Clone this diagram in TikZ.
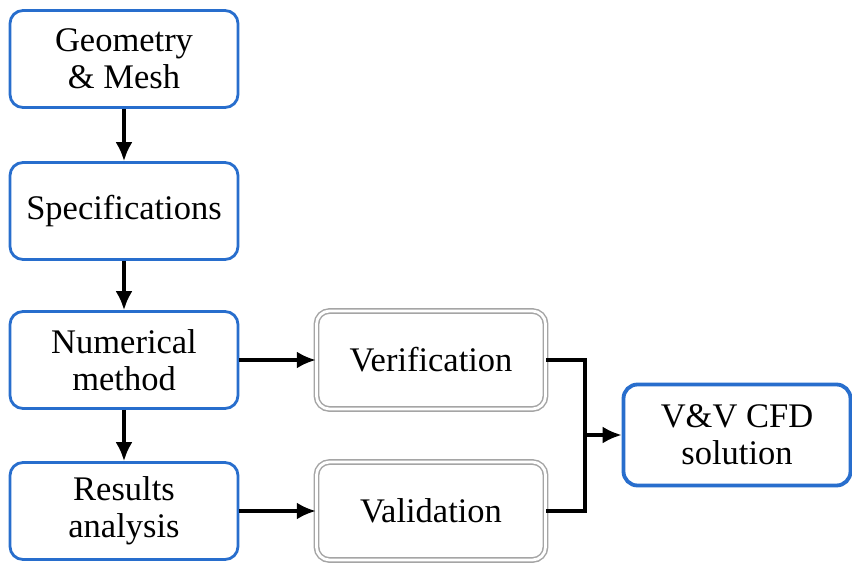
\documentclass[tikz,border=0pt]{standalone}
\usepackage{fontspec}
\setmainfont{Liberation Serif}
\usetikzlibrary{arrows.meta,shadows}
\definecolor{boxblue}{RGB}{40,110,205}
\definecolor{boxgray}{RGB}{165,165,165}
\begin{document}
\begin{tikzpicture}[x=1pt,y=-1pt,
  txt/.style={font=\fontsize{34.5}{37}\selectfont, align=center, inner sep=0pt},
  bluebox/.style={txt, draw=boxblue, line width=2.8pt, rounded corners=13pt, fill=white,
    minimum width=228pt, minimum height=97pt},
  graybox/.style={txt, draw=boxgray, line width=1.5pt, double=white, double distance=2.8pt,
    rounded corners=13pt, minimum width=229pt, minimum height=98pt},
  finalbox/.style={txt, draw=boxblue, line width=3.8pt, rounded corners=14pt, fill=white,
    minimum width=227pt, minimum height=101pt,
    drop shadow={opacity=0.18, shadow xshift=1.5pt, shadow yshift=-1.5pt}},
  conn/.style={line width=3.2pt, black},
  arr/.style={conn, -{Latex[length=19pt,width=17pt]}}
]
\useasboundingbox (0,0) rectangle (852,563);
\node[bluebox] (geo)  at (124,59)  {Geometry\\\& Mesh};
\node[bluebox] (spec) at (124,211) {Specifications};
\node[bluebox] (num)  at (124,360) {Numerical\\method};
\node[bluebox] (res)  at (124,511) {Results\\analysis};
\node[graybox] (ver)  at (431,360) {Verification};
\node[graybox] (val)  at (431,511) {Validation};
\node[finalbox] (vv)  at (737,435) {V\&V CFD\\solution};

\draw[arr] (geo.south) -- (spec.north);
\draw[arr] (spec.south) -- (num.north);
\draw[arr] (num.south) -- (res.north);
\draw[arr] (num.east) -- (ver.west);
\draw[arr] (res.east) -- (val.west);

\coordinate (jt) at (585,360);
\coordinate (jb) at (585,511);
\coordinate (jm) at (585,435);
\draw[conn] (ver.east) -- (jt) -- (jb) -- (val.east);
\draw[arr] (jm) -- (vv.west);
\end{tikzpicture}
\end{document}
